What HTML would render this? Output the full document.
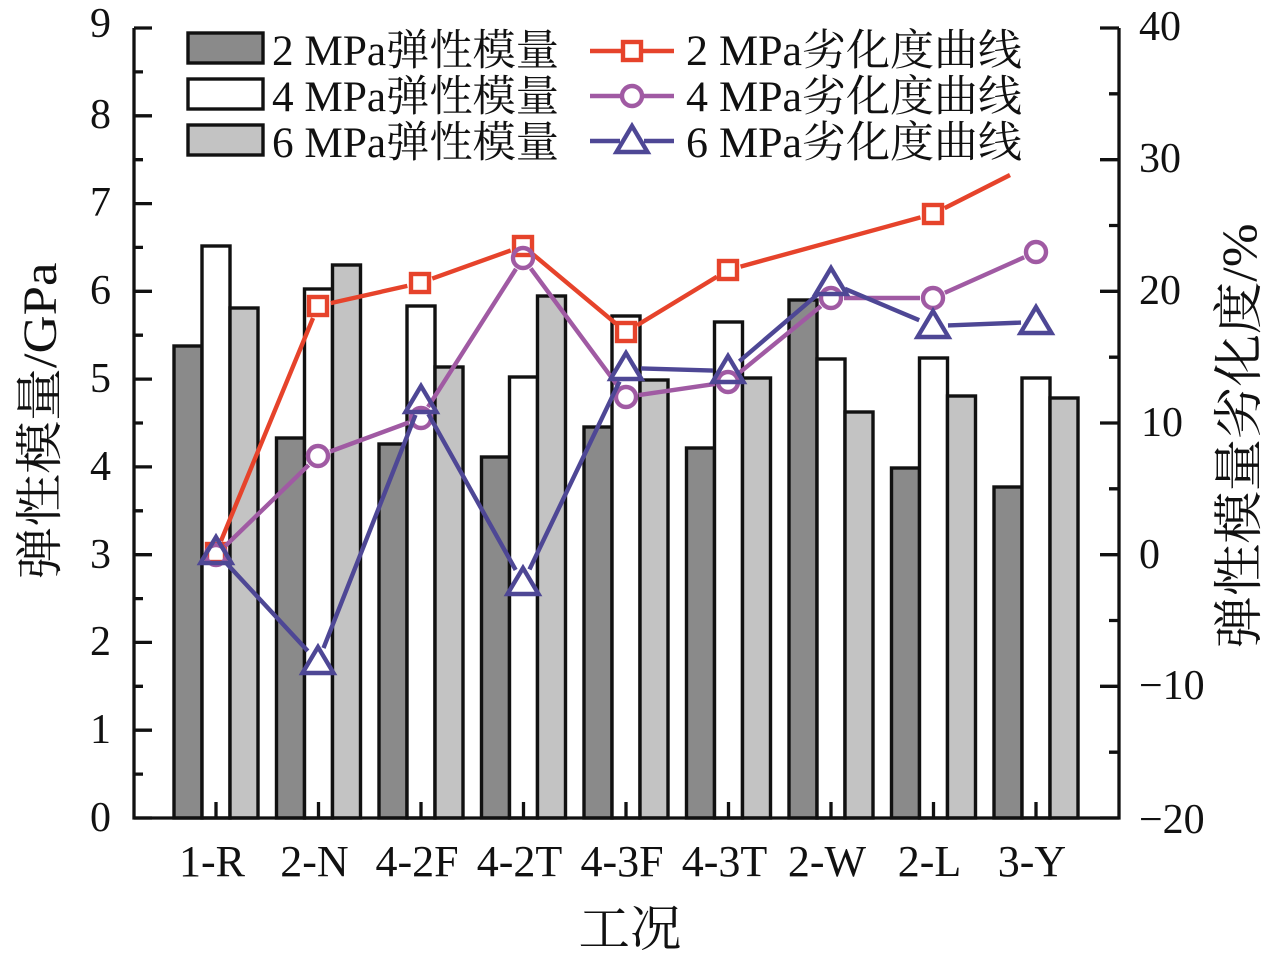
<!DOCTYPE html>
<html><head><meta charset="utf-8"><style>
html,body{margin:0;padding:0;background:#fff;}
svg{display:block;}
text{font-family:"Liberation Serif","Noto Serif CJK SC",serif;fill:#111;}
</style></head><body>
<svg width="1278" height="959" viewBox="0 0 1278 959" xmlns="http://www.w3.org/2000/svg">
<rect width="1278" height="959" fill="#fff"/>
<!-- bars -->
<g stroke="#111" stroke-width="3.4">
<g fill="#8a8a8a">
<rect x="174" y="346" width="28" height="472"/>
<rect x="276.5" y="438" width="28" height="380"/>
<rect x="379" y="444" width="28" height="374"/>
<rect x="481.5" y="457" width="28" height="361"/>
<rect x="584" y="427" width="28" height="391"/>
<rect x="686.5" y="448" width="28" height="370"/>
<rect x="789" y="300" width="28" height="518"/>
<rect x="891.5" y="468" width="28" height="350"/>
<rect x="994" y="487" width="28" height="331"/>
</g>
<g fill="#ffffff">
<rect x="202" y="246" width="28" height="572"/>
<rect x="304.5" y="289" width="28" height="529"/>
<rect x="407" y="306" width="28" height="512"/>
<rect x="509.5" y="377" width="28" height="441"/>
<rect x="612" y="316" width="28" height="502"/>
<rect x="714.5" y="322" width="28" height="496"/>
<rect x="817" y="359" width="28" height="459"/>
<rect x="919.5" y="358" width="28" height="460"/>
<rect x="1022" y="378" width="28" height="440"/>
</g>
<g fill="#c3c3c3">
<rect x="230" y="308" width="28" height="510"/>
<rect x="332.5" y="265" width="28" height="553"/>
<rect x="435" y="367" width="28" height="451"/>
<rect x="537.5" y="296" width="28" height="522"/>
<rect x="640" y="380" width="28" height="438"/>
<rect x="742.5" y="378" width="28" height="440"/>
<rect x="845" y="412" width="28" height="406"/>
<rect x="947.5" y="396" width="28" height="422"/>
<rect x="1050" y="398" width="28" height="420"/>
</g>
</g>
<!-- axes -->
<g stroke="#111" stroke-width="3.3" fill="none">
<path d="M134,28 V818 H1119 V28"/>
<path d="M134,818H152M134,730.2H152M134,642.4H152M134,554.7H152M134,466.9H152M134,379.1H152M134,291.3H152M134,203.6H152M134,115.8H152M134,28H152"/>
<path d="M134,774.1H143M134,686.3H143M134,598.6H143M134,510.8H143M134,423H143M134,335.2H143M134,247.4H143M134,159.7H143M134,71.9H143"/>
<path d="M1119,28H1100M1119,159.7H1100M1119,291.3H1100M1119,423H1100M1119,554.7H1100M1119,686.3H1100M1119,818H1100"/>
<path d="M1119,93.8H1109M1119,225.5H1109M1119,357.2H1109M1119,488.8H1109M1119,620.5H1109M1119,752.2H1109"/>
<path d="M216,818V802M318.5,818V802M421,818V802M523.5,818V802M626,818V802M728.5,818V802M831,818V802M933.5,818V802M1036,818V802"/>
</g>
<!-- lines -->
<g fill="none" stroke-width="4.4" stroke-linecap="butt">
<g stroke="#e6432b">
<path d="M220.96,540.98L313.04,318.02M330.68,303.14L407.32,285.86M432.23,278.6L510.77,250.4M532.98,254.33L616.02,323.67M637.11,325.25L716.89,276.75M740.54,266.57L920.46,217.43M944.6,208.13L1010,175"/>
<rect x="207" y="544" width="18" height="18"/>
<rect x="309" y="297" width="18" height="18"/>
<rect x="411" y="274" width="18" height="18"/>
<rect x="514" y="237" width="18" height="18"/>
<rect x="617" y="323" width="18" height="18"/>
<rect x="719" y="261" width="18" height="18"/>
<rect x="924" y="205" width="18" height="18"/>
</g>
<g stroke="#a05aa3">
<path d="M225.33,545.95L308.67,465.05M330.2,451.5L408.8,422.5M427.99,407.04L516.01,268.96M530.74,268.45L618.26,386.55M638.86,395.11L715.14,383.89M738.07,373.78L820.93,306.22M844,298L920,298M944.87,292.7L1024.13,257.3"/>
<circle cx="216" cy="555" r="10"/>
<circle cx="318" cy="456" r="10"/>
<circle cx="421" cy="418" r="10"/>
<circle cx="523" cy="258" r="10"/>
<circle cx="626" cy="397" r="10"/>
<circle cx="728" cy="382" r="10"/>
<circle cx="831" cy="298" r="10"/>
<circle cx="933" cy="298" r="10"/>
<circle cx="1036" cy="252" r="10"/>
</g>
<g stroke="#4e4795" stroke-linejoin="miter">
<path d="M226.2,563L307.8,651M323.51,648.05L415.49,414.95M428.33,414.09L515.67,569.91M529.48,569.47L619.52,381.53M640.99,368.44L713.01,370.56M739.4,361.26L819.6,292.74M844.82,288.83L919.18,320.17M947.99,325.42L1021.01,322.58"/>
<polygon points="216,537 200.5,563 231.5,563"/>
<polygon points="318,647 302.5,673 333.5,673"/>
<polygon points="421,386 405.5,412 436.5,412"/>
<polygon points="523,568 507.5,594 538.5,594"/>
<polygon points="626,353 610.5,379 641.5,379"/>
<polygon points="728,356 712.5,382 743.5,382"/>
<polygon points="831,268 815.5,294 846.5,294"/>
<polygon points="933,311 917.5,337 948.5,337"/>
<polygon points="1036,307 1020.5,333 1051.5,333"/>
</g>
</g>
<!-- legend left -->
<g stroke="#111" stroke-width="3.4">
<rect x="188" y="33" width="75" height="30" fill="#8a8a8a"/>
<rect x="188" y="79" width="75" height="30" fill="#ffffff"/>
<rect x="188" y="125" width="75" height="30" fill="#c3c3c3"/>
</g>
<g font-size="43">
<text x="272" y="65" textLength="287" lengthAdjust="spacingAndGlyphs">2 MPa弹性模量</text>
<text x="272" y="111" textLength="287" lengthAdjust="spacingAndGlyphs">4 MPa弹性模量</text>
<text x="272" y="157" textLength="287" lengthAdjust="spacingAndGlyphs">6 MPa弹性模量</text>
<text x="686" y="65" textLength="336" lengthAdjust="spacingAndGlyphs">2 MPa劣化度曲线</text>
<text x="686" y="111" textLength="336" lengthAdjust="spacingAndGlyphs">4 MPa劣化度曲线</text>
<text x="686" y="157" textLength="336" lengthAdjust="spacingAndGlyphs">6 MPa劣化度曲线</text>
</g>
<!-- legend right samples -->
<g fill="none" stroke-width="4.4">
<g stroke="#e6432b"><path d="M590,51H622M642,51H674"/><rect x="623" y="42" width="18" height="18"/></g>
<g stroke="#a05aa3"><path d="M590,96H621M643,96H674"/><circle cx="632" cy="96" r="10"/></g>
<g stroke="#4e4795"><path d="M590,141H620M644,141H674"/><polygon points="632,126 616.5,152 647.5,152"/></g>
</g>
<!-- tick labels left -->
<g font-size="42" text-anchor="end">
<text x="111" y="831">0</text>
<text x="111" y="743">1</text>
<text x="111" y="655">2</text>
<text x="111" y="568">3</text>
<text x="111" y="480">4</text>
<text x="111" y="392">5</text>
<text x="111" y="304">6</text>
<text x="111" y="216">7</text>
<text x="111" y="128">8</text>
<text x="111" y="37">9</text>
</g>
<!-- tick labels right -->
<g font-size="42">
<text x="1139" y="40">40</text>
<text x="1139" y="172">30</text>
<text x="1139" y="304">20</text>
<text x="1141" y="436">10</text>
<text x="1139" y="568">0</text>
<text x="1139" y="699">−10</text>
<text x="1139" y="833">−20</text>
</g>
<!-- x tick labels -->
<g font-size="44" text-anchor="middle">
<text x="212" y="876">1-R</text>
<text x="314.5" y="876">2-N</text>
<text x="417" y="876">4-2F</text>
<text x="519.5" y="876">4-2T</text>
<text x="622" y="876">4-3F</text>
<text x="724.5" y="876">4-3T</text>
<text x="827" y="876">2-W</text>
<text x="929.5" y="876">2-L</text>
<text x="1032" y="876">3-Y</text>
</g>
<!-- axis titles -->
<text x="630" y="946" font-size="50" text-anchor="middle" textLength="103" lengthAdjust="spacingAndGlyphs">工况</text>
<text transform="translate(56,421) rotate(-90)" font-size="48" text-anchor="middle" textLength="317" lengthAdjust="spacingAndGlyphs">弹性模量/GPa</text>
<text transform="translate(1256,436) rotate(-90)" font-size="50" text-anchor="middle" textLength="425" lengthAdjust="spacingAndGlyphs">弹性模量劣化度/%</text>
</svg>
</body></html>
